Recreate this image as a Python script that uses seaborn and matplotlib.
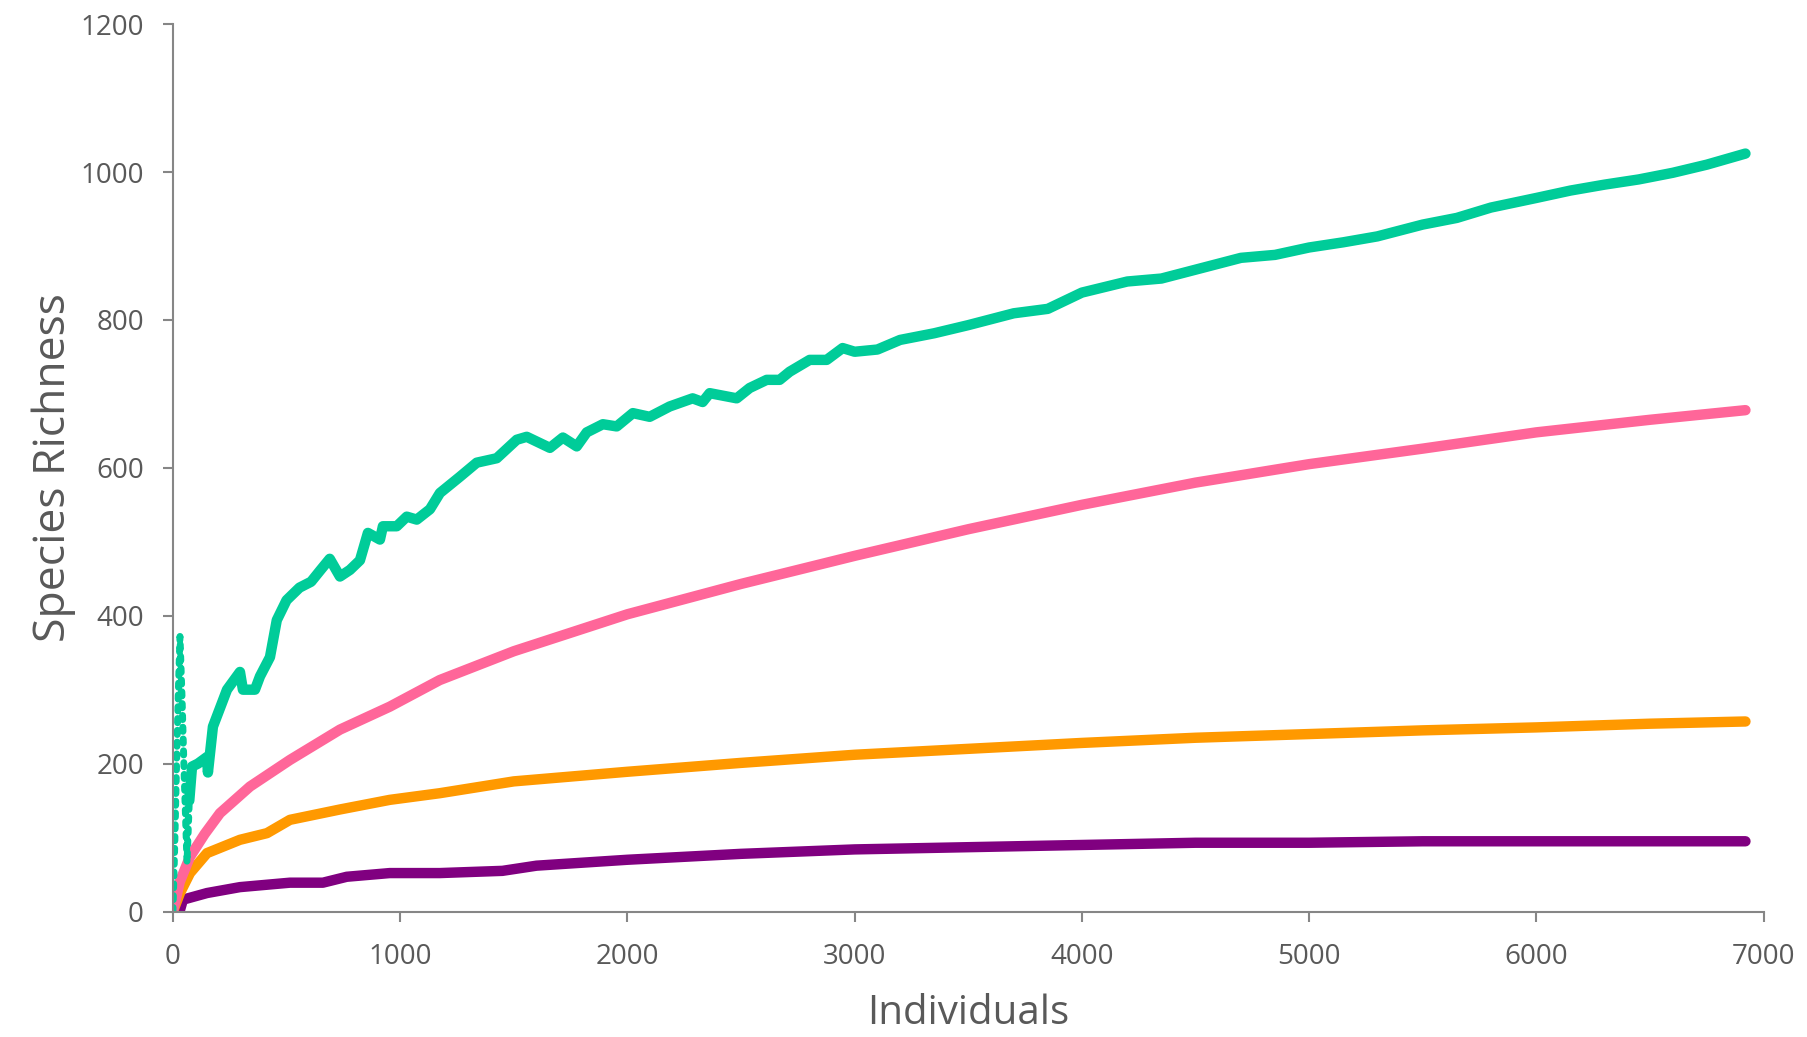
import matplotlib

matplotlib.use("Agg")
import matplotlib.pyplot as plt
import pandas as pd
import seaborn as sns

# valores (individuos, riqueza)
verde_x = [0, 8, 16, 24, 31, 40, 50, 62, 72, 84, 110, 150, 154, 176, 238, 295, 308,
           361, 383, 427, 457, 500, 557, 608, 650, 690, 735, 779, 823, 858, 911, 924,
           985, 1029, 1073, 1131, 1175, 1263, 1337, 1425, 1513, 1557, 1659, 1716, 1777,
           1821, 1892, 1953, 2024, 2098, 2186, 2287, 2331, 2362, 2481, 2538, 2613, 2670,
           2714, 2802, 2877, 2947, 3000, 3100, 3200, 3350, 3500, 3700, 3850, 4000, 4200,
           4350, 4500, 4700, 4850, 5000, 5150, 5300, 5500, 5650, 5800, 6000, 6150, 6300,
           6450, 6600, 6750, 6920]
verde_y = [0, 90, 200, 300, 372, 290, 180, 66, 150, 196, 200, 209, 188, 250, 300, 324, 300,
           300, 318, 344, 394, 421, 438, 446, 462, 477, 453, 462, 475, 512, 503, 521,
           521, 534, 530, 544, 566, 588, 607, 613, 638, 642, 627, 641, 629,
           648, 659, 656, 674, 669, 683, 694, 689, 701, 694, 708, 719, 719,
           730, 746, 746, 762, 757, 760, 773, 782, 793, 809, 815, 837, 852,
           856, 868, 884, 888, 898, 905, 913, 929, 938, 952, 965, 975, 983,
           990, 999, 1010, 1025]

rosa_x = [0, 30, 75, 140, 207, 339, 515, 735, 954, 1174, 1500, 2000, 2500, 3000, 3500,
          4000, 4500, 5000, 5500, 6000, 6500, 6920]
rosa_y = [0, 40, 74, 105, 133, 169, 205, 246, 277, 313, 352, 402, 443, 481, 517,
          550, 580, 605, 626, 648, 665, 678]

naranja_x = [0, 31, 75, 150, 295, 414, 515, 735, 954, 1174, 1500, 2000, 2500, 3000, 3500,
             4000, 4500, 5000, 5500, 6000, 6500, 6920]
naranja_y = [0, 25, 52, 79, 97, 106, 124, 138, 151, 160, 176, 189, 201, 212, 220,
             228, 235, 240, 245, 249, 254, 257]

morado_x = [0, 31, 44, 150, 295, 515, 660, 765, 954, 1174, 1450, 1600, 2000, 2500, 3000,
            3500, 4000, 4500, 5000, 5500, 6000, 6920]
morado_y = [0, 2, 16, 25, 33, 39, 39, 47, 52, 52, 55, 62, 70, 78, 84,
            87, 90, 93, 93, 95, 95, 95]

# el pico inicial de la serie verde se ve como puntos sueltos
CORTE_PICO = 9

sns.set_theme(style="white")
plt.rcParams["font.family"] = ["Open Sans", "DejaVu Sans"]
gris = "#595959"


def _linea(ax, xs, ys, color, **kw):
    df = pd.DataFrame({"individuos": xs, "riqueza": ys})
    sns.lineplot(
        data=df,
        x="individuos",
        y="riqueza",
        sort=False,
        estimator=None,
        color=color,
        solid_capstyle="round",
        solid_joinstyle="round",
        ax=ax,
        **kw,
    )


fig = plt.figure(figsize=(18.07, 10.37), dpi=100)
ax = fig.add_axes([0.0957, 0.121, 0.8803, 0.8557])

_linea(ax, morado_x, morado_y, "#800080", linewidth=7.5)
_linea(ax, naranja_x, naranja_y, "#FF9900", linewidth=7.5)
_linea(ax, rosa_x, rosa_y, "#FF6699", linewidth=7.5)
_linea(
    ax,
    verde_x[:CORTE_PICO],
    verde_y[:CORTE_PICO],
    "#00CC99",
    linewidth=5,
    linestyle=(0, (0.6, 1.1)),
    dash_capstyle="round",
)
_linea(ax, verde_x[CORTE_PICO - 1:], verde_y[CORTE_PICO - 1:], "#00CC99", linewidth=7.5)

ax.set_xlim(0, 7000)
ax.set_ylim(0, 1200)
ax.set_xticks(range(0, 7001, 1000))
ax.set_yticks(range(0, 1201, 200))
for lado in ["top", "right"]:
    ax.spines[lado].set_visible(False)
for lado in ["left", "bottom"]:
    ax.spines[lado].set_color("#868686")
    ax.spines[lado].set_linewidth(1.5)
ax.tick_params(
    axis="both",
    direction="out",
    length=7,
    width=1.5,
    color="#868686",
    labelsize=20,
    labelcolor=gris,
    left=True,
    bottom=True,
)
ax.tick_params(axis="x", pad=16)
ax.tick_params(axis="y", pad=14)
ax.set_xlabel("Individuals", fontsize=29, color=gris, labelpad=16)
ax.set_ylabel("Species Richness", fontsize=32, color=gris, labelpad=3)

fig.savefig("out.png", dpi=100)
